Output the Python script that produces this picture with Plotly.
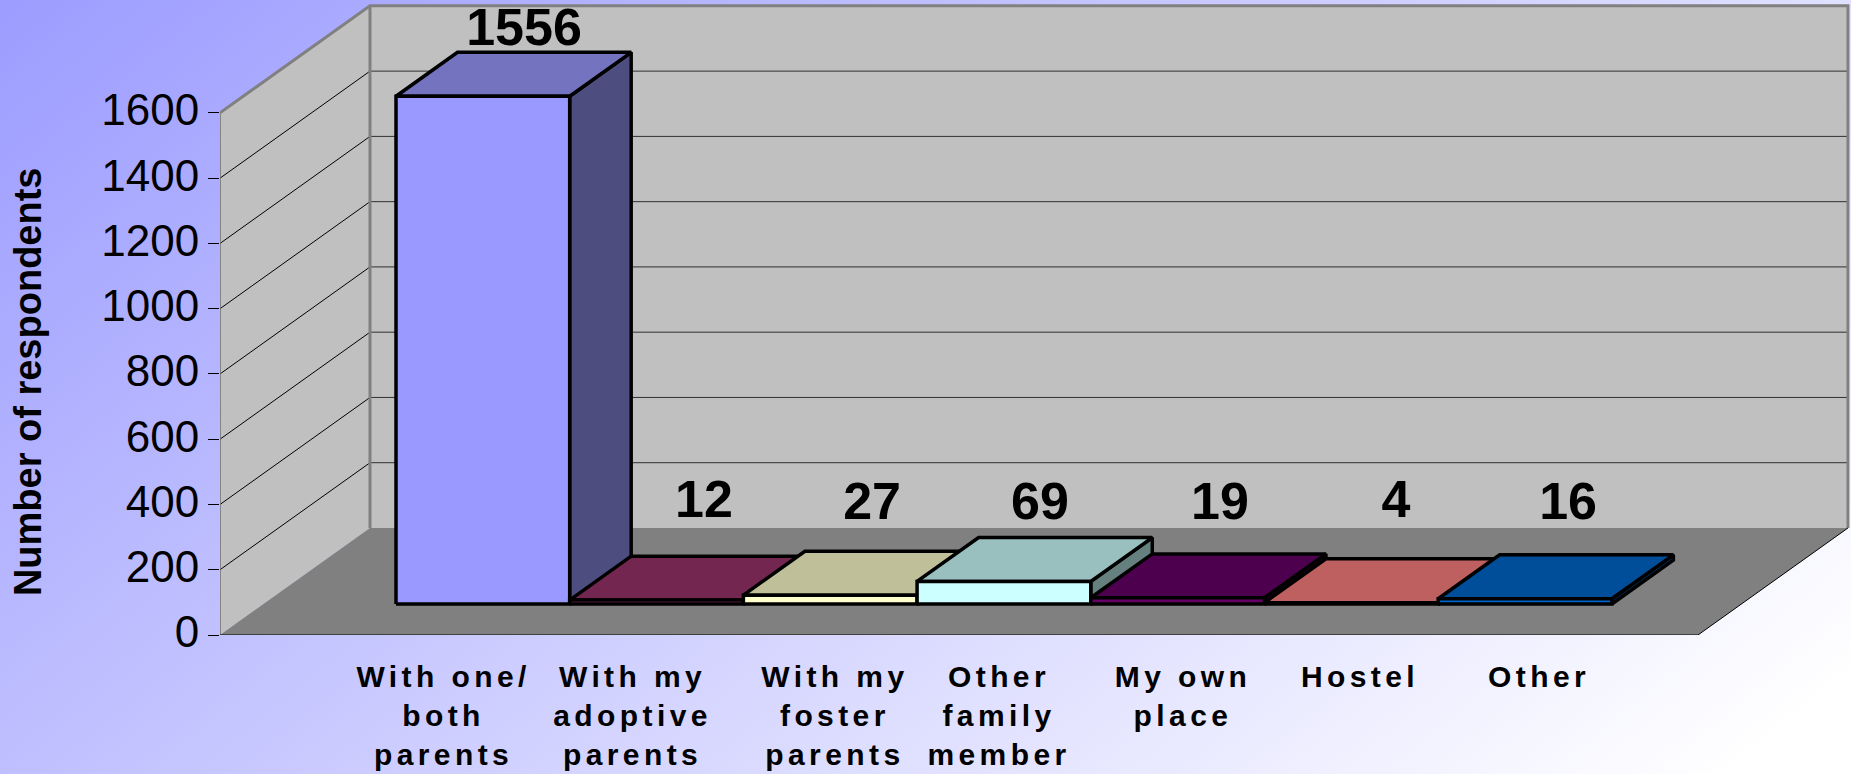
import base64
import plotly.graph_objects as go

# ---- data ----
categories = ["With one/<br>both<br>parents", "With my<br>adoptive<br>parents", "With my<br>foster<br>parents",
              "Other<br>family<br>member", "My own<br>place", "Hostel", "Other"]
values = [1556, 12, 27, 69, 19, 4, 16]
y_ticks = [0, 200, 400, 600, 800, 1000, 1200, 1400, 1600]
face_colors = ["#9999FF", "#993366", "#FFFFCC", "#CCFFFF", "#660066", "#FF8080", "#0066CC"]
top_colors = ["#7373BF", "#732650", "#BFBF99", "#99BFBF", "#4D004D", "#BF6060", "#004D99"]
side_colors = ["#4D4D80", "#4D1A33", "#808066", "#668080", "#330033", "#804040", "#003366"]
tick_positions = [1.287, 2.375, 3.54, 4.485, 5.544, 6.563, 7.594]
label_x = [1.750, 2.786, 3.754, 4.721, 5.757, 6.770, 7.761]
label_y = [1848, 401, 394, 394, 394, 402, 394]

# ---- oblique projection settings (axis units) ----
X_MAX, Y_MAX = 9.39, 1946
FLOOR_W = 8.509
DX, DY = 0.8636, 328
BAR_X0, BAR_W = 0.7628, 1.0
Z_FRONT, Z_BACK = 0.29, 0.70
AXIS_TOP = 1600
EDGE = 3.5


def proj(x, y, z):
    return x + z * DX, y + z * DY


def poly(points, fill, line="rgba(0,0,0,0)", width=0):
    xs, ys = zip(*[proj(*p) for p in points])
    return go.Scatter(x=list(xs) + [xs[0]], y=list(ys) + [ys[0]], mode="lines", fill="toself",
                      fillcolor=fill, line=dict(color=line, width=width), hoverinfo="skip",
                      showlegend=False, cliponaxis=False)


def seg(points, color, width):
    xs, ys = zip(*[proj(*p) for p in points])
    return go.Scatter(x=xs, y=ys, mode="lines", line=dict(color=color, width=width), hoverinfo="skip",
                      showlegend=False, cliponaxis=False)


fig = go.Figure()
# walls and floor
fig.add_trace(poly([(0, 0, 0), (0, 0, 1), (0, AXIS_TOP, 1), (0, AXIS_TOP, 0)], "#C0C0C0"))
fig.add_trace(poly([(0, 0, 1), (FLOOR_W, 0, 1), (FLOOR_W, AXIS_TOP, 1), (0, AXIS_TOP, 1)], "#C0C0C0"))
fig.add_trace(poly([(0, 0, 0), (FLOOR_W, 0, 0), (FLOOR_W, 0, 1), (0, 0, 1)], "#808080"))
# gridlines
for t in y_ticks[1:-1]:
    fig.add_trace(seg([(0, t, 0), (0, t, 1)], "#000000", 1))
    fig.add_trace(seg([(0, t, 1), (FLOOR_W, t, 1)], "#303030", 1))
# wall borders
fig.add_trace(seg([(0, 0, 0), (0, AXIS_TOP, 0)], "#707070", 1.5))
fig.add_trace(seg([(0, AXIS_TOP, 0), (0, AXIS_TOP, 1), (FLOOR_W, AXIS_TOP, 1), (FLOOR_W, 0, 1)], "#808080", 3))
fig.add_trace(seg([(0, 0, 1), (0, AXIS_TOP, 1)], "#808080", 3))
fig.add_trace(seg([(0, 0, 0), (FLOOR_W, 0, 0), (FLOOR_W, 0, 1)], "#000000", 1))

# 3-D bars
for k, v in enumerate(values):
    x0, x1 = BAR_X0 + k * BAR_W, BAR_X0 + (k + 1) * BAR_W
    fig.add_trace(poly([(x1, 0, Z_FRONT), (x1, 0, Z_BACK), (x1, v, Z_BACK), (x1, v, Z_FRONT)],
                       side_colors[k], "#000000", EDGE))
    fig.add_trace(poly([(x0, v, Z_FRONT), (x1, v, Z_FRONT), (x1, v, Z_BACK), (x0, v, Z_BACK)],
                       top_colors[k], "#000000", EDGE))
    fig.add_trace(poly([(x0, 0, Z_FRONT), (x1, 0, Z_FRONT), (x1, v, Z_FRONT), (x0, v, Z_FRONT)],
                       face_colors[k], "#000000", EDGE))

# value labels
fig.add_trace(go.Scatter(x=label_x, y=label_y, mode="text", text=[str(v) for v in values],
                         textposition="middle center", hoverinfo="skip", showlegend=False, cliponaxis=False,
                         textfont=dict(family="Liberation Sans", size=52, color="#000000", weight="bold")))

# page gradient
svg = ('<svg xmlns="http://www.w3.org/2000/svg" width="1851" height="774" preserveAspectRatio="none">'
       '<defs><linearGradient id="g" gradientUnits="userSpaceOnUse" x1="0" y1="0" x2="1075" y2="1314">'
       '<stop offset="0" stop-color="#9C9CFF"/><stop offset="1" stop-color="#FFFFFF"/>'
       '</linearGradient></defs><rect width="1851" height="774" fill="url(#g)"/></svg>')
src = "data:image/svg+xml;base64," + base64.b64encode(svg.encode()).decode()

L, R, T, B = 220, 0, 0, 139
W, H = 1851, 774
PW, PH = W - L - R, H - T - B

fig.update_layout(
    width=W, height=H, autosize=False,
    margin=dict(l=L, r=R, t=T, b=B, pad=0),
    paper_bgcolor="#FFFFFF", plot_bgcolor="rgba(0,0,0,0)",
    images=[dict(source=src, xref="paper", yref="paper", x=-L / PW, y=1 + T / PH,
                 sizex=W / PW, sizey=H / PH, sizing="stretch", xanchor="left", yanchor="top", layer="below")],
    xaxis=dict(range=[0, X_MAX], showgrid=False, zeroline=False, showline=False, ticks="", automargin=False,
               tickmode="array", tickvals=tick_positions, ticktext=categories, tickangle=0,
               ticklabelstandoff=21,
               tickfont=dict(family="Liberation Sans", size=30, color="#000000", weight="bold")),
    yaxis=dict(range=[0, Y_MAX], showgrid=False, zeroline=False, showline=False, ticks="outside", automargin=False,
               ticklen=11, tickcolor="#000000", tickwidth=1, ticklabelshift=-3,
               tickmode="array", tickvals=y_ticks, ticktext=[str(t) for t in y_ticks],
               tickfont=dict(family="Liberation Sans", size=44, color="#000000")),
    annotations=[dict(text="<b>Number of respondents</b>", textangle=-90, xref="paper", yref="y",
                      x=(28 - L) / PW, y=775, xanchor="center", yanchor="middle", showarrow=False,
                      font=dict(family="Liberation Sans", size=38, color="#000000"))],
)

post = ("var s=document.createElement('style');"
        "s.textContent='html,body{margin:0;padding:0;overflow:hidden} .xtick text{letter-spacing:4.4px}';"
        "document.head.appendChild(s);")
fig.write_html("out.html", post_script=post, config={"displayModeBar": False})
